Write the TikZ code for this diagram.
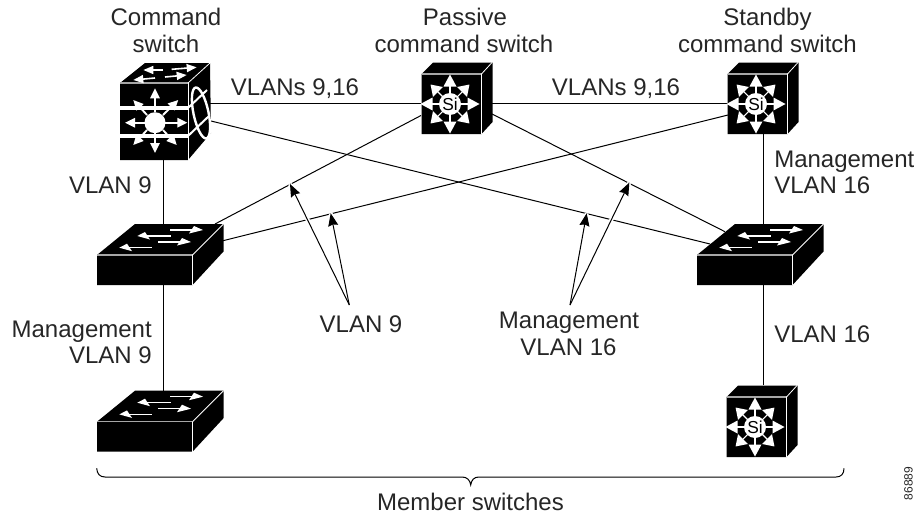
\documentclass[tikz,border=0pt]{standalone}
\usepackage{fontspec}
\setmainfont{Liberation Sans}
\usetikzlibrary{arrows.meta}
\newcommand{\SiBox}[2]{%
 \begin{scope}[shift={(#1,#2)}]
  \fill[black] (0,0)--(11.5,-11.5)--(71,-11.5)--(71,48)--(60,60)--(0,60)--cycle;
  \draw[facegray] (0,0)--(60,0);
  \draw[edgew] (60,0)--(60,60);
  \draw[edgew] (60,0)--(70.5,-11.5);
  \begin{scope}[shift={(28.5,30)}]
   \foreach \a in {0,90,180,270}{\begin{scope}[rotate=\a]
     \fill[white] (29.5,0)--(17.5,6.5)--(17.5,-6.5)--cycle;
     \draw[white,line width=.8pt] (10,0)--(20,0);\end{scope}}
   \foreach \a in {45,135,225,315}{\begin{scope}[rotate=\a]
     \fill[white] (27.5,0)--(17,7)--(17,-7)--cycle;
     \draw[white,line width=.8pt] (10,0)--(19,0);\end{scope}}
   \fill[white] (0,0) circle (11);
   \node[font=\fontsize{13}{13}\selectfont,inner sep=0pt] at (0,0) {Si};
  \end{scope}
 \end{scope}}
\newcommand{\LanBox}[2]{%
 \begin{scope}[shift={(#1,#2)}]
  \fill[black] (0,0)--(38,-31)--(126.5,-31)--(126.5,-3.5)--(95.5,30)--(0,30)--cycle;
  \draw[facegray] (0,0)--(95.5,0);
  \draw[edgew] (95.5,0)--(95.5,30);
  \draw[edgew] (95.5,0)--(126.5,-31);
  \fill[white] (106,-25)--(97,-29)--(92,-21.5)--cycle; \draw[white,line width=1pt] (73,-25)--(97,-25);
  \fill[white] (40.3,-19)--(48,-23)--(53,-15.5)--cycle; \draw[white,line width=1pt] (48,-19)--(73.7,-19);
  \fill[white] (94,-13)--(85,-17)--(80,-9.5)--cycle; \draw[white,line width=1pt] (61.3,-13)--(85,-13);
  \fill[white] (22.3,-7.3)--(30,-11.3)--(35,-3.8)--cycle; \draw[white,line width=1pt] (30,-7.3)--(55.3,-7.3);
 \end{scope}}
\tikzset{
 x=.75pt,y=-.75pt,
 facegray/.style={draw=black!35,line width=.8pt},
 edgew/.style={draw=white,line width=.6pt},
 link/.style={draw=black,line width=.75pt},
 lbl/.style={font=\fontsize{18}{18}\selectfont,inner sep=0pt,anchor=base,text=black!85},
 lblL/.style={lbl,anchor=base west},
 lblR/.style={lbl,anchor=base east},
 callout/.style={draw=black,line width=.75pt,-{Stealth[length=9.5pt,width=7.5pt,inset=1pt]}},
 halo/.style={draw=white,line width=3pt},
}
\begin{document}
\begin{tikzpicture}
\useasboundingbox (0,0) rectangle (914,514);
% named attachment points
\coordinate (cmdE) at (210,103);
\coordinate (cmdSE) at (211,121);
\coordinate (cmdS) at (163.5,160);
\coordinate (pasW) at (421,103);
\coordinate (pasE) at (491,103);
\coordinate (pasSW) at (421,115.5);
\coordinate (pasSE) at (491,113.5);
\coordinate (staW) at (728,103);
\coordinate (staSW) at (728,115);
\coordinate (staS) at (763.5,134);
\coordinate (lswN) at (163.5,224);
\coordinate (lswS) at (163.5,285);
\coordinate (lswNE) at (215,224);
\coordinate (lswE) at (223,240.7);
\coordinate (rswN) at (763.5,224);
\coordinate (rswS) at (763.5,285);
\coordinate (rswW) at (725,231.7);
\coordinate (rswWW) at (710,244);
\coordinate (botlN) at (163.5,392);
\coordinate (botrN) at (763.5,385);
\coordinate (v9a) at (349.3,305);
\coordinate (v9t1) at (290,184);
\coordinate (v9t2) at (330.7,213.3);
\coordinate (m16a) at (570,305);
\coordinate (m16t1) at (586.7,213.3);
\coordinate (m16t2) at (629.3,182.7);
% links
\draw[link] (cmdE)--(pasW);
\draw[link] (pasE)--(staW);
\draw[link] (cmdS)--(lswN);
\draw[link] (lswS)--(botlN);
\draw[link] (staS)--(rswN);
\draw[link] (rswS)--(botrN);
\draw[link] (cmdSE)--(rswWW);
\draw[link] (pasSW)--(lswNE);
\draw[link] (pasSE)--(rswW);
\draw[link] (staSW)--(lswE);
% callouts
\draw[halo] (v9a)--(v9t1); \draw[halo] (v9a)--(v9t2);
\draw[halo] (m16a)--(m16t1); \draw[halo] (m16a)--(m16t2);
\draw[callout] (v9a)--(v9t1);
\draw[callout] (v9a)--(v9t2);
\draw[callout] (m16a)--(m16t1);
\draw[callout] (m16a)--(m16t2);
% command switch
\fill[black] (120,83)--(145,63)--(210,63)--(211,133)--(188,160)--(120,160)--cycle;
\draw[facegray] (120,83)--(188,83);
\draw[edgew] (188,83)--(210,63);
\draw[edgew] (188,83)--(188,160);
\fill[white] (120,106)--(188,106)--(188,109.5)--(120,109.5)--cycle;
\fill[white] (120,134)--(188,134)--(188,137.5)--(120,137.5)--cycle;
\draw[white,line width=1.5pt] (188,108)--(207,90);
\draw[white,line width=1.5pt] (188,136)--(209,116);
\draw[white,line width=1.8pt,rotate around={12:(201,113)}] (201,113) ellipse (7.5 and 26);
\foreach \tx/\ty/\bx/\by in {155/88.3/155/112, 155/153/155/133, 125/122.7/145/122.7, 187.3/122.7/165/122.7,
   133.3/100/147/115, 178.3/100/163/115, 133.3/145/147/130, 176.7/145/163/130}{
 \draw[white,line width=1.4pt,-{Triangle[length=7.5pt,width=7pt]}] (\bx,\by)--(\tx,\ty);}
\fill[white] (155,122.7) circle (10.5);
\foreach \tx/\ty/\bx/\by in {196.7/67.3/171.7/69.3, 143.3/70/163/70, 186.7/75/165/77, 133.3/80/155/78}{
 \draw[white,line width=1.2pt,-{Triangle[length=7.5pt,width=6pt]}] (\bx,\by)--(\tx,\ty);}
% other devices
\SiBox{421.5}{74}
\SiBox{727.5}{74}
\SiBox{726.5}{397}
\LanBox{97}{255}
\LanBox{97}{421.7}
\LanBox{697}{255}
% brace
\draw[draw=black,line width=.75pt] (96.7,468.3) .. controls (97,474) and (100,477) .. (105,477)
  -- (462,477) .. controls (467,477) and (470,480) .. (470.7,485)
  .. controls (471.4,480) and (474,477) .. (479,477)
  -- (836,477) .. controls (841,477) and (844,474) .. (844,468.3);
% labels
\node[lbl] (t1a) at (166,25) {Command};
\node[lbl] (t1b) at (166,52) {switch};
\node[lbl] (t2a) at (465,25) {Passive};
\node[lbl] (t2b) at (464,52) {command switch};
\node[lbl] (t3a) at (767.5,25) {Standby};
\node[lbl] (t3b) at (767.5,52) {command switch};
\node[lbl] (t4) at (295,95) {VLANs 9,16};
\node[lbl] (t5) at (616,95) {VLANs 9,16};
\node[lblR] (t6) at (152,193) {VLAN 9};
\node[lblL] (t7a) at (774,167) {Management};
\node[lblL] (t7b) at (774,193) {VLAN 16};
\node[lblR] (t8a) at (152,337) {Management};
\node[lblR] (t8b) at (152,363) {VLAN 9};
\node[lbl] (t9) at (361,332) {VLAN 9};
\node[lbl] (t10a) at (569,328) {Management};
\node[lbl] (t10b) at (568.5,355) {VLAN 16};
\node[lblL] (t11) at (774,342) {VLAN 16};
\node[lbl] (t12) at (470.5,510) {Member switches};
\node[font=\fontsize{9}{9}\selectfont,inner sep=0pt,rotate=90,anchor=base,text=black!85] (t13) at (912.5,483.5) {86889};
\end{tikzpicture}
\end{document}
